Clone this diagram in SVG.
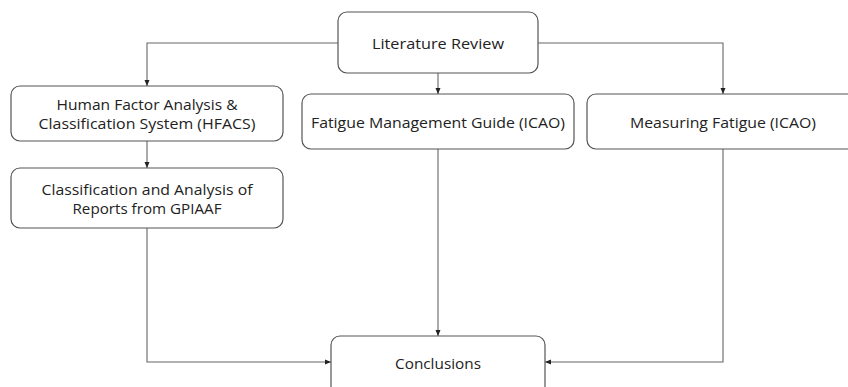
<svg xmlns="http://www.w3.org/2000/svg" width="848" height="387" viewBox="0 0 848 387">
<defs>
<style>
.box{fill:#fff;stroke:#555;stroke-width:1.2}
.lbl{font-family:"Open Sans","Liberation Sans",sans-serif;font-size:15px;fill:#222;text-anchor:middle}
.con{fill:none;stroke:#666;stroke-width:1.1}
</style>
<marker id="ah" markerUnits="userSpaceOnUse" markerWidth="7" markerHeight="6" refX="6" refY="3" orient="auto">
<path d="M0,0.5 L6,3 L0,5.5 Z" fill="#222"/>
</marker>
</defs>
<rect width="848" height="387" fill="#fff"/>
<g id="connectors">
<path class="con" d="M338,43 H147 V86" marker-end="url(#ah)"/>
<path class="con" d="M438,73 V94" marker-end="url(#ah)"/>
<path class="con" d="M538,43 H723 V94" marker-end="url(#ah)"/>
<path class="con" d="M147,141 V168" marker-end="url(#ah)"/>
<path class="con" d="M147,228 V362 H331" marker-end="url(#ah)"/>
<path class="con" d="M438,149 V336" marker-end="url(#ah)"/>
<path class="con" d="M723,149 V362 H545" marker-end="url(#ah)"/>
</g>
<g id="literature-review">
<rect class="box" x="338" y="12" width="200" height="61" rx="9"/>
<text class="lbl" x="438" y="49" textLength="132" lengthAdjust="spacingAndGlyphs">Literature Review</text>
</g>
<g id="hfacs">
<rect class="box" x="11" y="86" width="272" height="55" rx="9"/>
<text class="lbl" x="147" y="110" textLength="181" lengthAdjust="spacingAndGlyphs">Human Factor Analysis &amp;</text>
<text class="lbl" x="147" y="129" textLength="217" lengthAdjust="spacingAndGlyphs">Classification System (HFACS)</text>
</g>
<g id="classification">
<rect class="box" x="11" y="168" width="272" height="60" rx="9"/>
<text class="lbl" x="147" y="195" textLength="211" lengthAdjust="spacingAndGlyphs">Classification and Analysis of</text>
<text class="lbl" x="147" y="214" textLength="149" lengthAdjust="spacingAndGlyphs">Reports from GPIAAF</text>
</g>
<g id="fatigue-management">
<rect class="box" x="302" y="94" width="272" height="55" rx="9"/>
<text class="lbl" x="438" y="128" textLength="254" lengthAdjust="spacingAndGlyphs">Fatigue Management Guide (ICAO)</text>
</g>
<g id="measuring-fatigue">
<rect class="box" x="587" y="94" width="272" height="55" rx="9"/>
<text class="lbl" x="723" y="128" textLength="186" lengthAdjust="spacingAndGlyphs">Measuring Fatigue (ICAO)</text>
</g>
<g id="conclusions">
<rect class="box" x="331" y="336" width="214" height="60" rx="9"/>
<text class="lbl" x="438" y="369" textLength="86" lengthAdjust="spacingAndGlyphs">Conclusions</text>
</g>
</svg>
